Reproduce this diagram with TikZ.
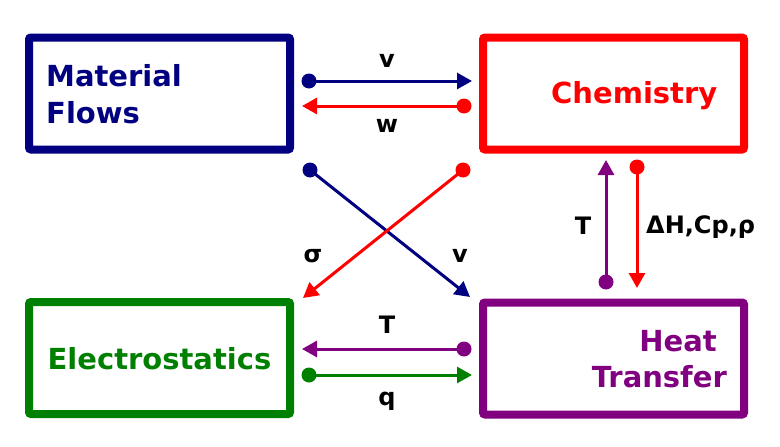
\documentclass[tikz,border=0pt]{standalone}
\usepackage{fontspec}
\setmainfont{DejaVu Sans}
\usetikzlibrary{arrows.meta}
\definecolor{cnavy}{RGB}{0,0,128}
\definecolor{cred}{RGB}{255,0,0}
\definecolor{cgreen}{RGB}{0,128,0}
\definecolor{cpurple}{RGB}{128,0,128}
\begin{document}
\begin{tikzpicture}[x=1pt,y=-1pt,
  box/.style={draw=#1,line width=8pt,rounded corners=2pt,minimum width=261pt,minimum height=112pt,inner sep=0pt},
  title/.style={text=#1,font=\fontsize{29}{38}\selectfont\bfseries,inner sep=0pt},
  lab/.style={font=\fontsize{24}{28}\selectfont\bfseries,inner sep=0pt},
  conn/.style={draw=#1,line width=3pt,-{Triangle[length=15pt,width=16pt]}},
  dotc/.style={fill=#1}]
\useasboundingbox (0,0) rectangle (780,447);
% boxes
\node[box=cnavy] (mf) at (159.5,93.5) {};
\node[box=cred] (ch) at (613.5,93.5) {};
\node[box=cgreen] (el) at (159.5,358) {};
\node[box=cpurple] (ht) at (613.5,358.5) {};
% titles
\node[title=cnavy,anchor=base west] (t1) at (46,86) {Material};
\node[title=cnavy,anchor=base west] (t2) at (46,123) {Flows};
\node[title=cred,anchor=base west] (t3) at (551,103) {Chemistry};
\node[title=cgreen,anchor=base] (t4) at (159.5,369) {Electrostatics};
\node[title=cpurple,anchor=base east] (t5) at (717,351) {Heat};
\node[title=cpurple,anchor=base east] (t6) at (727,387) {Transfer};
% endpoints
\coordinate (a1) at (309,81);  \coordinate (a2) at (472,81);
\coordinate (b1) at (464,106); \coordinate (b2) at (302,106);
\coordinate (c1) at (310,170); \coordinate (c2) at (470,297);
\coordinate (d1) at (463,170); \coordinate (d2) at (303,298);
\coordinate (e1) at (606,282); \coordinate (e2) at (606,160);
\coordinate (f1) at (637,167); \coordinate (f2) at (637,288);
\coordinate (g1) at (464,349); \coordinate (g2) at (302,349);
\coordinate (h1) at (309,375); \coordinate (h2) at (472,375);
% connectors
\draw[conn=cnavy] (a1) -- (a2);
\draw[conn=cred] (b1) -- (b2);
\draw[conn=cnavy] (c1) -- (c2);
\draw[conn=cred] (d1) -- (d2);
\draw[conn=cpurple] (e1) -- (e2);
\draw[conn=cred] (f1) -- (f2);
\draw[conn=cpurple] (g1) -- (g2);
\draw[conn=cgreen] (h1) -- (h2);
% dots
\fill[dotc=cnavy] (a1) circle (7.5pt);
\fill[dotc=cred] (b1) circle (7.5pt);
\fill[dotc=cnavy] (c1) circle (7.5pt);
\fill[dotc=cred] (d1) circle (7.5pt);
\fill[dotc=cpurple] (e1) circle (7.5pt);
\fill[dotc=cred] (f1) circle (7.5pt);
\fill[dotc=cpurple] (g1) circle (7.5pt);
\fill[dotc=cgreen] (h1) circle (7.5pt);
% labels
\node[lab,anchor=base] (l1) at (387,67) {v};
\node[lab,anchor=base] (l2) at (387,132) {w};
\node[lab,anchor=base] (l3) at (313,262) {σ};
\node[lab,anchor=base] (l4) at (460,262) {v};
\node[lab,anchor=base] (l5) at (583,234) {T};
\node[lab,anchor=base west] (l6) at (646,233) {ΔH,Cp,ρ};
\node[lab,anchor=base] (l7) at (387,333) {T};
\node[lab,anchor=base] (l8) at (387,405) {q};
\end{tikzpicture}
\end{document}
